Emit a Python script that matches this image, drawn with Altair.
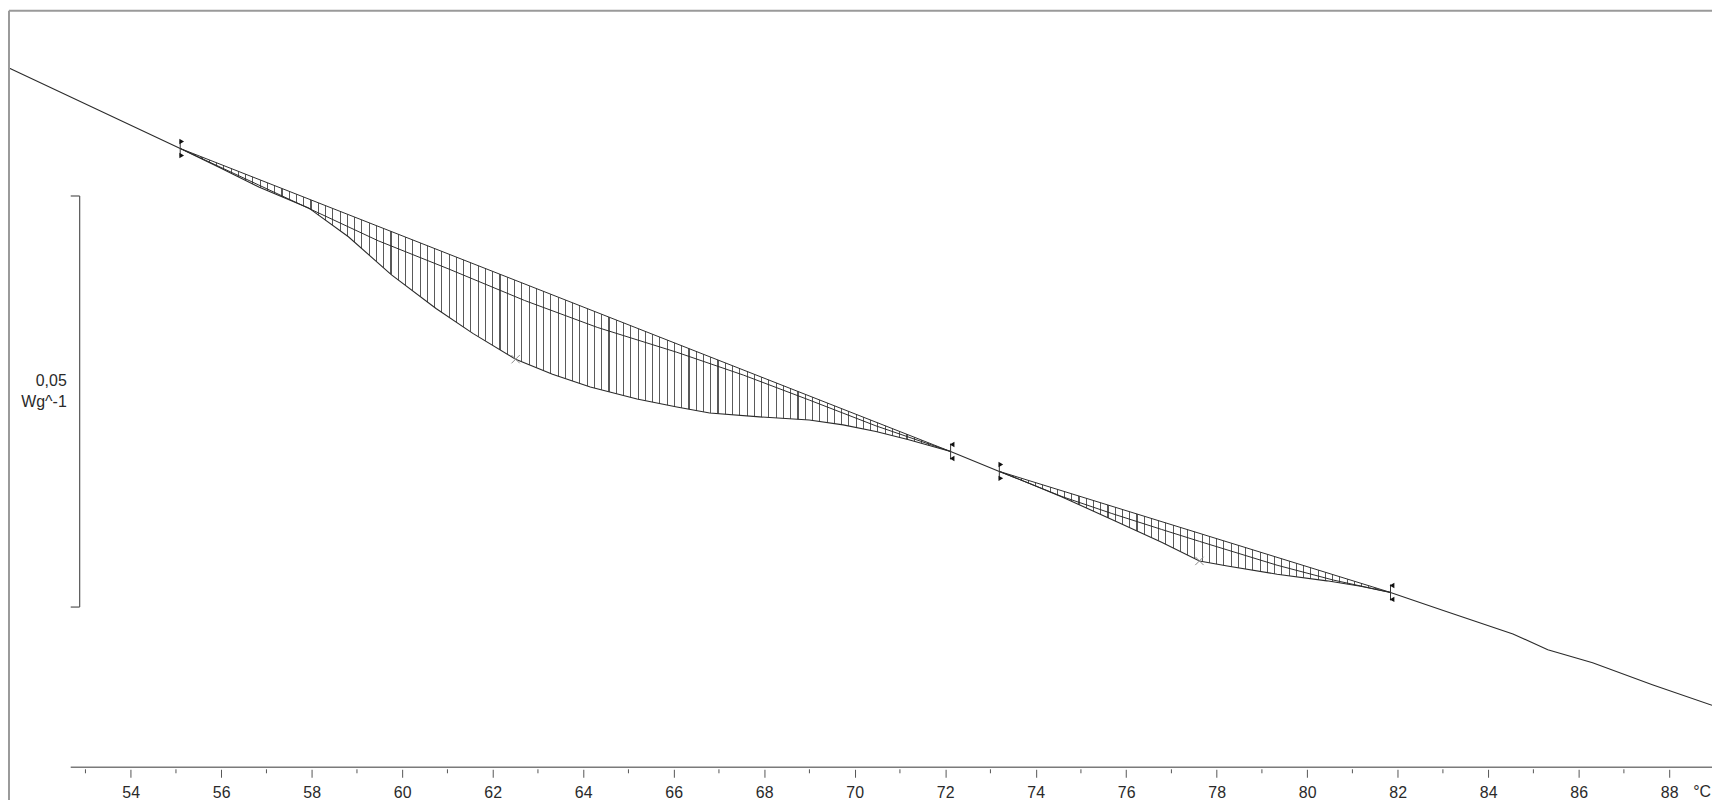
import altair as alt
import pandas as pd

# ---------------- data ----------------
# measured DSC curve (temperature in °C, heat flow in W/g)
temp = [51.310, 55.094, 55.951, 56.831, 57.931, 58.811, 59.757, 60.747, 61.561, 62.507,
        63.321, 64.157, 65.190, 66.070, 66.796, 67.896, 68.996, 69.744, 70.470, 71.196,
        72.120, 73.197, 73.879, 74.583, 75.683, 76.783, 77.619, 78.235, 79.335, 80.435,
        81.182, 81.842, 83.008, 84.548, 85.318, 86.308, 87.628, 88.947]
heat = [-0.20696, -0.21674, -0.21901, -0.22143, -0.22397, -0.22748, -0.23208, -0.23620, -0.23923, -0.24237,
        -0.24419, -0.24576, -0.24722, -0.24818, -0.24891, -0.24939, -0.24976, -0.25036, -0.25117, -0.25218,
        -0.25360, -0.25602, -0.25751, -0.25914, -0.26186, -0.26465, -0.26691, -0.26752, -0.26852, -0.26933,
        -0.26998, -0.27074, -0.27294, -0.27579, -0.27772, -0.27930, -0.28196, -0.28447]

# peak 1 (integration 55.1 .. 72.1 °C): curve temps/values = temp[1:21], straight baseline
peak1_base = [-0.21674, -0.21860, -0.22050, -0.22288, -0.22479, -0.22684, -0.22898, -0.23074, -0.23279, -0.23455,
              -0.23636, -0.23860, -0.24050, -0.24207, -0.24445, -0.24683, -0.24845, -0.25002, -0.25160, -0.25360]
# peak 2 (integration 73.2 .. 81.8 °C): curve temps/values = temp[21:32]
peak2_base = [-0.25602, -0.25718, -0.25838, -0.26025, -0.26212, -0.26355, -0.26460, -0.26647, -0.26834,
              -0.26962, -0.27074]

# inner (sigmoidal) baselines
mid1_temp = [55.094, 56.831, 58.151, 59.471, 61.011, 62.705, 64.310, 66.070, 67.544, 68.996, 70.470, 72.120]
mid1_heat = [-0.21674, -0.22119, -0.22458, -0.22797, -0.23136, -0.23523, -0.23850, -0.24153, -0.24431,
             -0.24734, -0.25048, -0.25360]
mid2_temp = [73.197, 74.583, 75.683, 76.783, 77.619, 79.335, 80.589, 81.842]
mid2_heat = [-0.25602, -0.25908, -0.26114, -0.26308, -0.26453, -0.26743, -0.26925, -0.27074]

# integration limits and peak positions
limit_temp = [55.094, 72.120, 73.197, 81.842]
limit_heat = [-0.21674, -0.25360, -0.25602, -0.27074]
limit_kind = ["start", "end", "start", "end"]
peak_temp = [62.507, 77.619]
peak_heat = [-0.24237, -0.26691]

# scale bar (0,05 W/g)
bar_x = [52.872]
bar_tick_left = [52.674]
bar_top = [-0.22252]
bar_bottom = [-0.27252]
bar_label_x = [52.586]
bar_label_y = [-0.24631]
bar_label = ["0,05\nWg^-1"]

# x axis
major_ticks = list(range(54, 89, 2))
minor_ticks = list(range(53, 88, 2))
axis_start = [52.674]
axis_end = [88.947]
unit_x = [88.53]
unit_label = ["°C"]

x_domain = [51.310, 88.947]
y_domain = [-0.29201, -0.2]

# ---------------- chart ----------------
W, H = 1711, 760
FONT = "Liberation Sans"
LINE = "#2b2b2b"
TXT = "#2a2a2a"

xs = alt.Scale(domain=x_domain, nice=False, zero=False)
ys = alt.Scale(domain=y_domain, nice=False, zero=False)
x_axis = alt.Axis(values=major_ticks, domain=False, grid=False, tickSize=8, tickColor="#555",
                  tickWidth=1, labelFont=FONT, labelFontSize=16, labelColor=TXT,
                  labelPadding=7, offset=2, title=None, labelFlush=False, labelOverlap=False,
                  format="d")


def X(f):
    return alt.X(f, type="quantitative", scale=xs, axis=x_axis)


def Y(f):
    return alt.Y(f, type="quantitative", scale=ys, axis=None)


def stripes(n, wfrac, color):
    gap = "rgba(255,255,255,0)"
    stops = []
    for i in range(n + 1):
        c = i / n
        a = round(max(0.0, c - wfrac / 2), 6)
        b = round(min(1.0, c + wfrac / 2), 6)
        stops += [{"offset": a, "color": gap}, {"offset": a, "color": color},
                  {"offset": b, "color": color}, {"offset": b, "color": gap}]
    return {"gradient": "linear", "x1": 0, "x2": 1, "y1": 0, "y2": 0, "stops": stops}


curve_df = pd.DataFrame({"t": temp, "h": heat})
p1_df = pd.DataFrame({"t": temp[1:21], "h": heat[1:21], "b": peak1_base})
p2_df = pd.DataFrame({"t": temp[21:32], "h": heat[21:32], "b": peak2_base})
m1_df = pd.DataFrame({"t": mid1_temp, "h": mid1_heat})
m2_df = pd.DataFrame({"t": mid2_temp, "h": mid2_heat})
b1_df = pd.DataFrame({"t": [temp[1], temp[20]], "h": [peak1_base[0], peak1_base[-1]]})
b2_df = pd.DataFrame({"t": [temp[21], temp[31]], "h": [peak2_base[0], peak2_base[-1]]})
lim_df = pd.DataFrame({"t": limit_temp, "h": limit_heat, "k": limit_kind})
pk_df = pd.DataFrame({"t": peak_temp, "h": peak_heat})

hatch1 = alt.Chart(p1_df).mark_area(fill=stripes(106, 1.1 / 774, "#5a5a5a"), opacity=1).encode(
    x=X("t"), y=Y("h"), y2="b")
hatch2 = alt.Chart(p2_df).mark_area(fill=stripes(54, 1.1 / 393, "#5a5a5a"), opacity=1).encode(
    x=X("t"), y=Y("h"), y2="b")

base1 = alt.Chart(b1_df).mark_line(color=LINE, strokeWidth=1).encode(x=X("t"), y=Y("h"))
base2 = alt.Chart(b2_df).mark_line(color=LINE, strokeWidth=1).encode(x=X("t"), y=Y("h"))
mid1 = alt.Chart(m1_df).mark_line(color=LINE, strokeWidth=1).encode(x=X("t"), y=Y("h"))
mid2 = alt.Chart(m2_df).mark_line(color=LINE, strokeWidth=1).encode(x=X("t"), y=Y("h"))
curve = alt.Chart(curve_df).mark_line(color=LINE, strokeWidth=1.1).encode(x=X("t"), y=Y("h"))

shape_enc = alt.Shape("k:N", scale=alt.Scale(domain=["start", "end"],
                                              range=["triangle-right", "triangle-left"]), legend=None)
lim_stem = alt.Chart(lim_df).mark_rule(color="#333", strokeWidth=1, yOffset=-8, y2Offset=8).encode(
    x=X("t"), y=Y("h"), y2="h")
lim_top = alt.Chart(lim_df).mark_point(filled=True, color="#111", size=30, yOffset=-7, xOffset=1.5,
                                       opacity=1).encode(x=X("t"), y=Y("h"), shape=shape_enc)
lim_bot = alt.Chart(lim_df).mark_point(filled=True, color="#111", size=30, yOffset=7, xOffset=1.5,
                                       opacity=1).encode(x=X("t"), y=Y("h"), shape=shape_enc)
peaks = alt.Chart(pk_df).mark_point(shape="M-1,-1L1,1M-1,1L1,-1", size=70, filled=False,
                                    stroke="#8a8a8a", strokeWidth=1, opacity=1).encode(
    x=X("t"), y=Y("h"))

bar_df = pd.DataFrame({"x": bar_x, "xl": bar_tick_left, "top": bar_top, "bot": bar_bottom})
bar = alt.Chart(bar_df).mark_rule(color="#555", strokeWidth=1.2).encode(x=X("x"), y=Y("top"), y2="bot")
bar_t1 = alt.Chart(bar_df).mark_rule(color="#555", strokeWidth=1.2).encode(x=X("xl"), x2="x", y=Y("top"))
bar_t2 = alt.Chart(bar_df).mark_rule(color="#555", strokeWidth=1.2).encode(x=X("xl"), x2="x", y=Y("bot"))
bar_txt = alt.Chart(pd.DataFrame({"x": bar_label_x, "y": bar_label_y, "s": bar_label})).mark_text(
    align="right", baseline="middle", font=FONT, fontSize=16, color=TXT, lineBreak="\n",
    lineHeight=22, dy=-11).encode(x=X("x"), y=Y("y"), text="s:N")

axis_line = alt.Chart(pd.DataFrame({"a": axis_start, "b": axis_end})).mark_rule(
    color="#7a7a7a", strokeWidth=1.5).encode(x=X("a"), x2="b", y=alt.value(H))
minor = alt.Chart(pd.DataFrame({"t": minor_ticks})).mark_rule(color="#555", strokeWidth=1).encode(
    x=X("t"), y=alt.value(H + 2), y2=alt.value(H + 6))
unit = alt.Chart(pd.DataFrame({"x": unit_x, "s": unit_label})).mark_text(
    align="left", baseline="middle", font=FONT, fontSize=16, color=TXT).encode(
    x=X("x"), y=alt.value(H + 25), text="s:N")

one = alt.Data(values=[{"a": 1}])
frame_left = alt.Chart(one).mark_rule(color="#9a9a9a", strokeWidth=2).encode(
    x=alt.value(0), y=alt.value(0), y2=alt.value(H + 40))
frame_top = alt.Chart(one).mark_rule(color="#9a9a9a", strokeWidth=2).encode(
    x=alt.value(0), x2=alt.value(W + 5), y=alt.value(0))

chart = alt.layer(
    hatch1, hatch2, base1, base2, mid1, mid2, curve, lim_stem, lim_top, lim_bot, peaks,
    bar, bar_t1, bar_t2, bar_txt, axis_line, minor, unit, frame_left, frame_top
).properties(
    width=W, height=H,
    autosize=alt.AutoSizeParams(type="none"),
    padding={"left": 1, "top": 1, "right": 0, "bottom": 31},
    background="white",
).configure_view(stroke=None)

chart.save("out.html", embed_options={"renderer": "svg", "actions": False})
